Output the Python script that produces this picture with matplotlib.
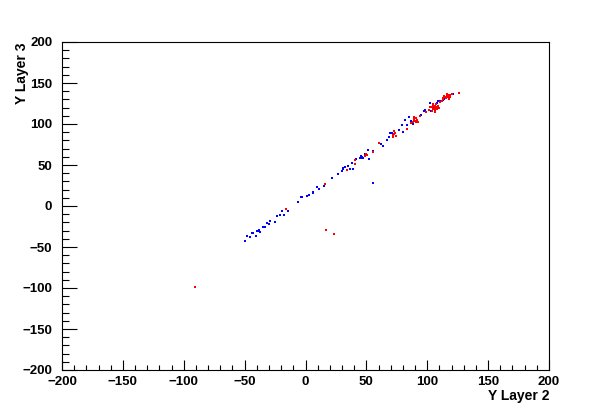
import matplotlib
matplotlib.use("Agg")
import matplotlib.pyplot as plt
from matplotlib.ticker import MultipleLocator

blue_x = [-49.7, -48.3, -45.6, -43.9, -42.8, -40.6, -39.5, -37.9, -37.4, -34.6, -33.3, -31.3,
          -29.7, -29.1, -25.0, -23.1, -20.9, -19.0, -17.6, -14.6, -6.1, -3.7, -2.9, 1.5, 2.6,
          5.9, 6.4, 9.7, 11.4, 15.2, 16.0, 21.8, 26.7, 30.0, 31.1, 32.5, 33.8, 35.2, 36.6,
          38.5, 39.3, 41.2, 45.3, 46.1, 47.5, 48.9, 51.3, 52.4, 55.2, 55.5, 61.8, 63.4, 67.0,
          68.3, 69.4, 70.8, 73.5, 77.1, 80.1, 79.0, 81.7, 83.1, 85.0, 86.9, 88.0, 94.6, 97.3,
          97.9, 102.3, 103.4, 105.6, 107.7, 109.1, 113.2, 115.4, 117.6, 121.4, 44.5, 46.8,
          -38.5, 45.8, 30.8, 110.5, 114.0]
blue_y = [-42.3, -36.6, -37.4, -32.5, -33.3, -36.2, -30.1, -29.3, -31.3, -26.0, -25.2, -20.3,
          -21.9, -17.9, -19.1, -12.2, -11.0, -6.1, -10.6, -5.7, 4.9, 11.4, 11.4, 12.2, 13.9,
          15.5, 17.5, 22.8, 21.2, 24.4, 26.9, 34.2, 39.4, 43.1, 44.7, 47.2, 43.9, 48.8, 45.5,
          52.0, 45.5, 56.9, 58.1, 60.2, 58.1, 63.4, 68.3, 57.3, 67.5, 28.5, 75.6, 73.6, 80.5,
          84.6, 88.6, 89.4, 89.4, 92.7, 90.7, 99.2, 104.9, 99.2, 109.0, 104.1, 100.0, 110.6, 115.5,
          117.1, 125.2, 116.3, 121.2, 125.2, 127.6, 129.3, 131.3, 134.2, 136.6, 59.0, 59.5,
          -30.5, 61.5, 46.0, 128.5, 130.5]

red_x = [-90.8, -16.0, 16.3, 16.8, 23.4, 34.4, 40.9, 40.9, 50.2, 55.2, 60.6, 72.1, 73.5,
         83.1, 89.1, 89.9, 91.9, 94.1, 99.0, 101.2, 102.3, 105.0, 106.4, 107.7, 109.1, 110.5,
         113.2, 114.6, 116.0, 117.3, 118.7, 125.8, 104.5, 105.8, 107.0, 90.5, 88.2, 74.0,
         104.0, 105.0, 106.0, 107.0, 108.0, 104.0, 106.0, 108.0, 105.0, 107.0, 109.0, 106.0, 110.0,
         88.0, 89.0, 90.0, 91.0, 92.0, 89.0, 87.0,
         72.0, 73.0, 74.0, 73.0, 72.0,
         113.0, 115.0, 117.0, 119.0, 114.0, 116.0, 118.0, 120.0, 112.0,
         49.0, 50.0]
red_y = [-98.8, -3.2, 26.8, -29.3, -34.1, 43.9, 56.1, 51.2, 61.8, 66.3, 76.4, 86.6, 88.6,
         93.5, 104.9, 106.9, 104.9, 109.8, 115.1, 117.1, 121.2, 123.2, 119.1, 117.9, 120.3, 127.2,
         131.3, 133.3, 134.2, 135.4, 133.3, 137.4, 118.5, 121.8, 120.0, 103.0, 102.5, 85.5,
         116.0, 118.0, 117.0, 119.0, 118.0, 121.0, 122.0, 121.0, 124.0, 124.0, 122.0, 115.0, 119.0,
         103.0, 106.0, 104.0, 107.0, 103.0, 108.0, 101.0,
         86.0, 88.0, 85.0, 91.0, 84.0,
         130.0, 132.0, 133.0, 135.0, 134.0, 136.0, 131.0, 137.0, 128.0,
         61.0, 63.0]

fig = plt.figure(figsize=(6.12, 4.12), dpi=100)
ax = fig.add_axes([62/612, 42/412, 487/612, 328/412])

ax.plot(blue_x, blue_y, ls='none', marker='s', ms=1.7, mew=0, color='#0000ff')
ax.plot(red_x, red_y, ls='none', marker='s', ms=1.7, mew=0, color='#ff0000')

ax.set_xlim(-200, 200)
ax.set_ylim(-200, 200)
ax.xaxis.set_major_locator(MultipleLocator(50))
ax.xaxis.set_minor_locator(MultipleLocator(10))
ax.yaxis.set_major_locator(MultipleLocator(50))
ax.yaxis.set_minor_locator(MultipleLocator(10))
ax.tick_params(axis='both', which='both', direction='in', top=False, right=False, width=0.8, color='black')
ax.tick_params(axis='x', which='major', length=7.5, pad=4)
ax.tick_params(axis='x', which='minor', length=3.8)
ax.tick_params(axis='y', which='major', length=10.5, pad=7)
ax.tick_params(axis='y', which='minor', length=5.2)
for lab in ax.get_xticklabels() + ax.get_yticklabels():
    lab.set_fontfamily('Liberation Sans')
    lab.set_fontweight('bold')
    lab.set_fontsize(9.5)
for s in ax.spines.values():
    s.set_linewidth(0.8)

fig.text(549/612, (412-396)/412, 'Y Layer 2', ha='right', va='center',
         family='Liberation Sans', weight='bold', fontsize=10)
fig.text(22/612, (412-42)/412, 'Y Layer 3', ha='center', va='top', rotation=90,
         family='Liberation Sans', weight='bold', fontsize=10)

fig.savefig('out.png', dpi=100)
